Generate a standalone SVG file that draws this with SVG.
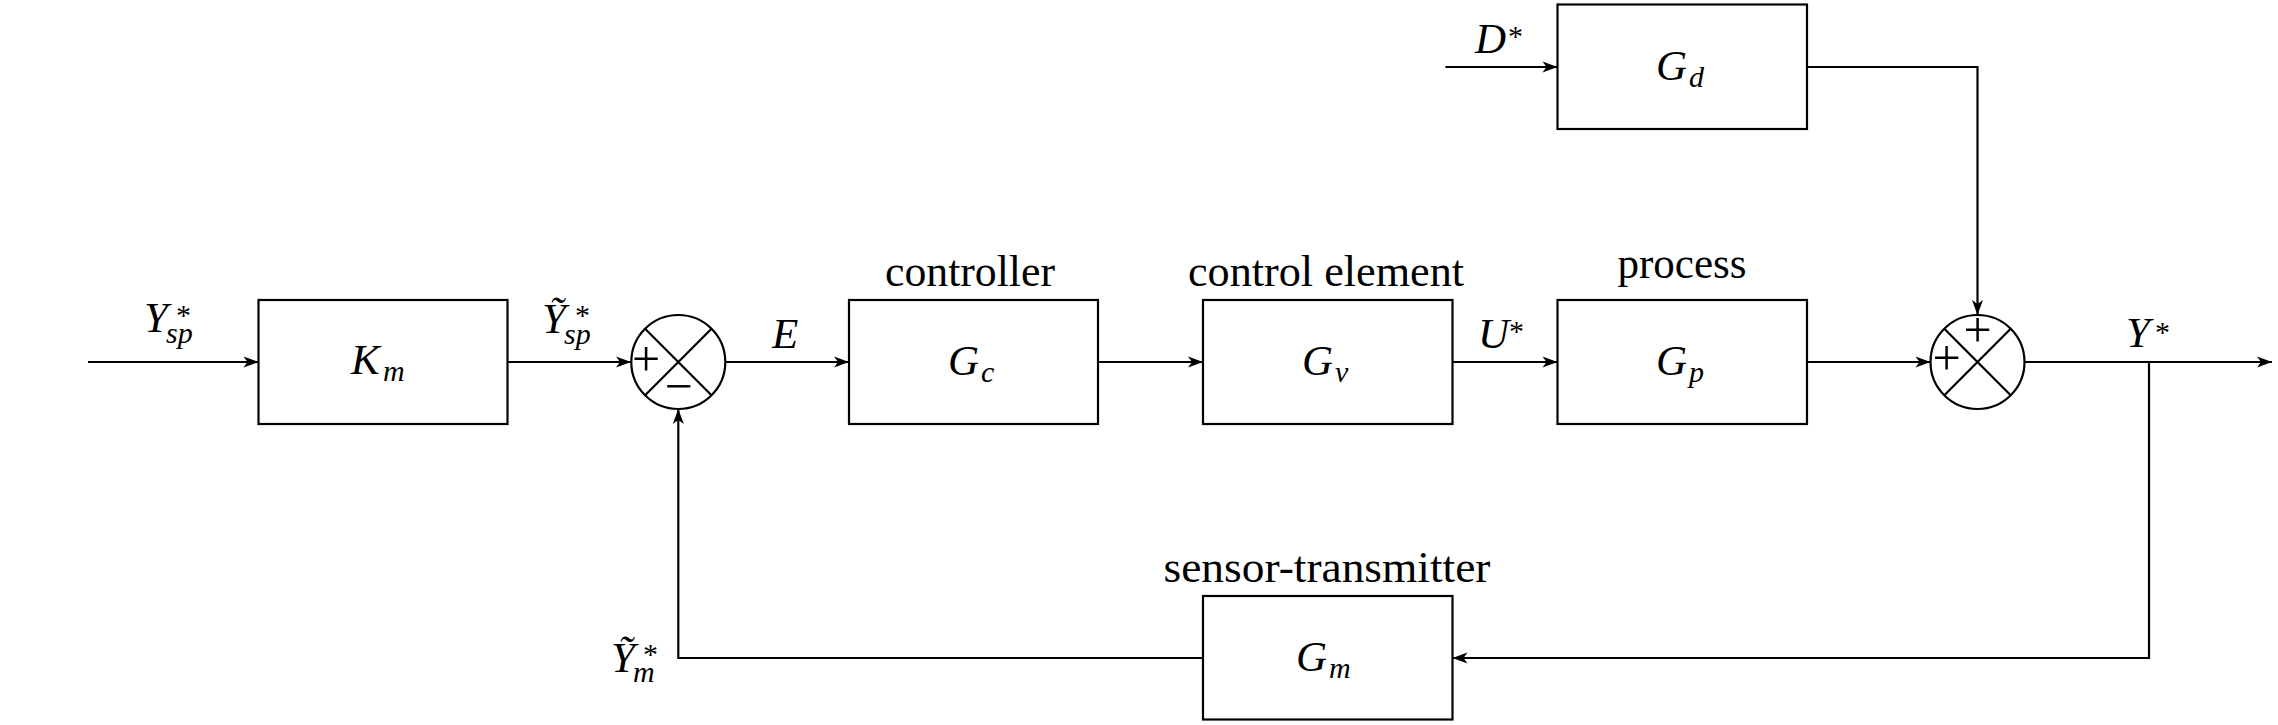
<svg xmlns="http://www.w3.org/2000/svg" width="2278" height="725" viewBox="0 0 2278 725">
<style>
.ln{stroke:#000;stroke-width:2.2;fill:none}
.bx{fill:#fff;stroke:#000;stroke-width:2.2}
.mi{font-family:"Liberation Serif","DejaVu Serif",serif;font-style:italic;font-size:43px;fill:#000}
.sb{font-style:italic;font-size:30px}
.st{font-style:normal;font-size:30px}
.tx{font-family:"Liberation Serif","DejaVu Serif",serif;font-size:44px;fill:#000;text-anchor:middle}
.sg{font-family:"Liberation Serif","DejaVu Serif",serif;font-size:50px;fill:#000;text-anchor:middle}
</style>
<defs>
<marker id="arr" markerUnits="userSpaceOnUse" markerWidth="20" markerHeight="14" viewBox="-16 -7 20 14" refX="0" refY="0" orient="auto">
<path d="M0,0 L-15,-5.5 L-11,0 L-15,5.5 Z" fill="#000"/>
</marker>
</defs>

<g id="connectors">
<path class="ln" d="M88,362 H258.5" marker-end="url(#arr)"/>
<path class="ln" d="M507.5,362 H631" marker-end="url(#arr)"/>
<path class="ln" d="M725.3,362 H849" marker-end="url(#arr)"/>
<path class="ln" d="M1098,362 H1203" marker-end="url(#arr)"/>
<path class="ln" d="M1452.5,362 H1557.5" marker-end="url(#arr)"/>
<path class="ln" d="M1807,362 H1930.5" marker-end="url(#arr)"/>
<path class="ln" d="M2024.5,362 H2272" marker-end="url(#arr)"/>
<path class="ln" d="M1445.5,67 H1557.5" marker-end="url(#arr)"/>
<path class="ln" d="M1807,67 H1977.5 V315" marker-end="url(#arr)"/>
<path class="ln" d="M2149,362 V658 H1452.5" marker-end="url(#arr)"/>
<path class="ln" d="M1203,658 H678.3 V409" marker-end="url(#arr)"/>
</g>

<g id="labels">
<text class="mi" x="144" y="332">Y<tspan class="st" x="176" y="325">*</tspan><tspan class="sb" x="166" y="343">sp</tspan></text>
<text class="mi" x="542" y="333">Ỹ<tspan class="st" x="575" y="325">*</tspan><tspan class="sb" x="564" y="344">sp</tspan></text>
<text class="mi" x="772" y="348">E</text>
<text class="mi" x="1478" y="348">U<tspan class="st" x="1509" y="341">*</tspan></text>
<text class="mi" x="1475" y="53.3">D<tspan class="st" x="1508" y="45.7">*</tspan></text>
<text class="mi" x="2126" y="347.3">Y<tspan class="st" x="2155" y="342">*</tspan></text>
<text class="mi" x="611" y="671.7">Ỹ<tspan class="st" x="643" y="664">*</tspan><tspan class="sb" x="633" y="682">m</tspan></text>
</g>

<g id="Km">
<rect class="bx" x="258.5" y="300" width="249" height="124"/>
<text class="mi" x="351" y="374">K<tspan class="sb" x="383" y="381">m</tspan></text>
</g>

<g id="sum1">
<circle class="bx" cx="678.3" cy="362" r="47"/>
<path class="ln" d="M645.1,328.8 L711.5,395.2 M645.1,395.2 L711.5,328.8"/>
<text class="sg" x="646" y="375.5">+</text>
<text class="sg" x="678.5" y="402.8">−</text>
</g>

<g id="Gc">
<text class="tx" x="970" y="285.5" textLength="170" lengthAdjust="spacingAndGlyphs">controller</text>
<rect class="bx" x="849" y="300" width="249" height="124"/>
<text class="mi" x="948" y="375">G<tspan class="sb" x="981" y="382">c</tspan></text>
</g>

<g id="Gv">
<text class="tx" x="1326" y="285.5" textLength="276" lengthAdjust="spacingAndGlyphs">control element</text>
<rect class="bx" x="1203" y="300" width="249.5" height="124"/>
<text class="mi" x="1302" y="375">G<tspan class="sb" x="1335" y="382">v</tspan></text>
</g>

<g id="Gp">
<text class="tx" x="1682" y="278" textLength="129" lengthAdjust="spacingAndGlyphs">process</text>
<rect class="bx" x="1557.5" y="300" width="249.5" height="124"/>
<text class="mi" x="1656" y="375">G<tspan class="sb" x="1689" y="382">p</tspan></text>
</g>

<g id="Gd">
<rect class="bx" x="1557.5" y="4.5" width="249.5" height="124.5"/>
<text class="mi" x="1656" y="80">G<tspan class="sb" x="1689" y="87">d</tspan></text>
</g>

<g id="sum2">
<circle class="bx" cx="1977.5" cy="362" r="47"/>
<path class="ln" d="M1944.3,328.8 L2010.7,395.2 M1944.3,395.2 L2010.7,328.8"/>
<text class="sg" x="1946.7" y="375">+</text>
<text class="sg" x="1977.7" y="347">+</text>
</g>

<g id="Gm">
<text class="tx" x="1327" y="581.5" textLength="327" lengthAdjust="spacingAndGlyphs">sensor-transmitter</text>
<rect class="bx" x="1203" y="596" width="249.5" height="123.5"/>
<text class="mi" x="1296" y="671">G<tspan class="sb" x="1329" y="678">m</tspan></text>
</g>
</svg>
